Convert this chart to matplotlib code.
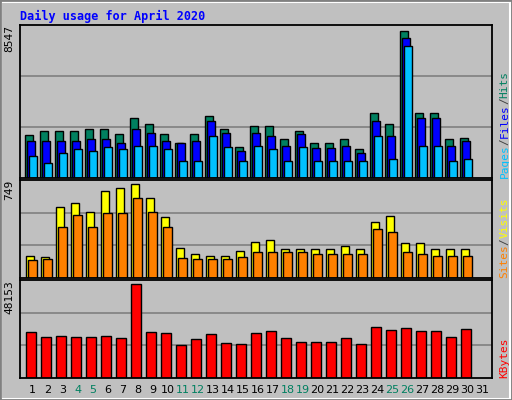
import matplotlib
matplotlib.use("Agg")
import matplotlib.pyplot as plt
from matplotlib.patches import Rectangle
import numpy as np

days = list(range(1, 32))
weekend = [4, 5, 11, 12, 18, 19, 25, 26]
hits = [2500,2733,2733,2733,2849,2849,2558,3488,3140,2558,2035,2558,3605,2849,1802,3023,3023,2267,2733,2035,2035,2267,1686,3779,3140,8547,3779,3779,2267,2326]
files = [2151,2151,2151,2151,2267,2267,2035,2849,2616,2151,2035,2151,3314,2616,1570,2616,2442,1860,2558,1744,1744,1860,1453,3314,2442,8140,3488,3488,1860,2151]
pages = [1279,872,1453,1686,1570,1802,1686,1860,1860,1686,988,988,2442,1802,988,1860,1686,988,1802,988,988,988,988,2442,1105,7674,1860,1860,988,1105]
visits = [179,171,562,594,529,692,716,749,635,488,236,195,179,179,212,285,301,228,228,228,228,252,228,448,497,277,277,228,228,228]
sites = [147,155,407,505,407,521,521,635,529,407,163,155,155,155,171,204,204,204,204,195,195,195,195,391,366,204,195,179,179,179]
kbytes = [23550,20936,21459,20936,20936,21459,20412,48153,23550,23030,16750,19890,22505,17795,17272,23030,24076,20412,18320,18320,18320,20412,17272,26170,24600,25646,24076,24076,20936,25123]

BG = "#c0c0c0"
fig = plt.figure(figsize=(5.12, 4.0), dpi=100, facecolor=BG)
fig.patches.append(Rectangle((1/512, 1/400), 509/512, 397/400, transform=fig.transFigure,
                             fill=False, ec="white", lw=1.5))
fig.patches.append(Rectangle((0, 0), 1, 1, transform=fig.transFigure, fill=False, ec="#808080", lw=2))

def px(x0, y0, w, h):
    return [x0/512, (400-y0-h)/400, w/512, h/400]

X0, X1 = 0.267, 31.73
def setup(ax, vmax, label):
    ax.set_facecolor(BG)
    ax.set_xlim(X0, X1)
    ax.set_ylim(0, vmax*1.043)
    for f in (1/3, 2/3):
        ax.axhline(vmax*1.043*f, color="#808080", lw=1.2, zorder=0)
    ax.set_xticks([]); ax.set_yticks([])
    for s in ax.spines.values():
        s.set_color("black"); s.set_linewidth(1.3)
    ax.text(-0.012, 1.0, label, transform=ax.transAxes, rotation=90, ha="right", va="top",
            fontsize=8, family="DejaVu Sans Mono")

d = np.arange(1, 31)
kw = dict(edgecolor="black", linewidth=1.0)
ax1 = fig.add_axes(px(20, 25, 472, 153))
setup(ax1, max(hits), "8547")
ax1.bar(d-0.13, hits, 0.55, color="#008060", **kw)
ax1.bar(d, files, 0.55, color="#0000ff", **kw)
ax1.bar(d+0.13, pages, 0.55, color="#00c0ff", **kw)

ax2 = fig.add_axes(px(20, 180, 472, 98))
setup(ax2, max(visits), "749")
ax2.bar(d-0.07, visits, 0.55, color="#ffff00", **kw)
ax2.bar(d+0.1, sites, 0.55, color="#ff8000", **kw)

ax3 = fig.add_axes(px(20, 280, 472, 98))
setup(ax3, max(kbytes), "48153")
ax3.bar(d, kbytes, 0.68, color="#ff0000", **kw)

for dd in days:
    ax3.text(dd + 0.1, -0.12, str(dd), transform=ax3.get_xaxis_transform(), ha="center", va="center",
             fontsize=8, color="#008060" if dd in weekend else "black")

fig.text(20/512, 1-16/400, "Daily usage for April 2020", color="#0000ff", fontsize=8.5,
         fontweight="bold", family="DejaVu Sans Mono", va="center", ha="left")

def rlabel(ax, parts):
    text = "".join(p[0] for p in parts)
    fs = 8
    char_px = fs * 0.602 * 100 / 72
    total = len(text) * char_px
    axh = ax.get_position().height * 400
    y = 0.0 if total <= axh else 0.0
    for txt, col in parts:
        ax.text(1.027, y, txt, transform=ax.transAxes, rotation=90, ha="center", va="bottom",
                fontsize=fs, family="DejaVu Sans Mono", color=col)
        y += len(txt) * char_px / axh

rlabel(ax1, [("Pages", "#00c0ff"), ("/", "#404040"), ("Files", "#0000ff"), ("/", "#404040"), ("Hits", "#008060")])
rlabel(ax2, [("Sites", "#ff8000"), ("/", "#404040"), ("Visits", "#ffff00")])
rlabel(ax3, [("KBytes", "#ff0000")])

fig.savefig("out.png", dpi=100, facecolor=BG)
